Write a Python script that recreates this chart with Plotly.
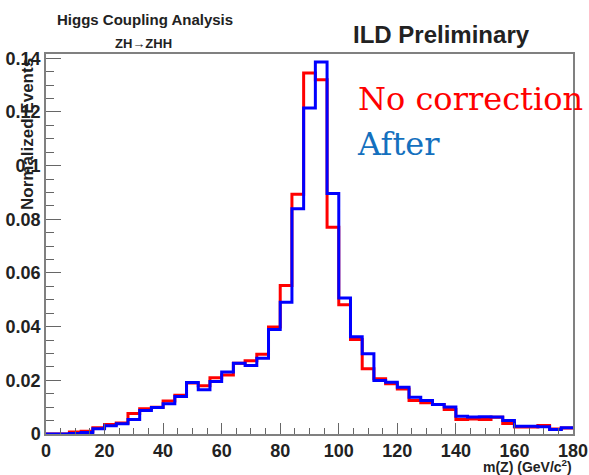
import plotly.graph_objects as go

# m(Z) histogram: 45 bins of 4 GeV from 0 to 180
bin_edges = list(range(0, 184, 4))

no_correction = [
    0.0, 0.0, 0.0007, 0.0010, 0.0023, 0.0035, 0.0041, 0.0076, 0.0094, 0.0100,
    0.0123, 0.0144, 0.0190, 0.0180, 0.0210, 0.0220, 0.0264, 0.0273, 0.0297, 0.0399,
    0.0553, 0.0893, 0.1345, 0.1320, 0.0770, 0.0482, 0.0352, 0.0243, 0.0206, 0.0187,
    0.0168, 0.0125, 0.0116, 0.0110, 0.0091, 0.0054, 0.0056, 0.0054, 0.0062, 0.0039,
    0.0026, 0.0026, 0.0032, 0.0019, 0.0022,
]

after = [
    0.0, 0.0, 0.0002, 0.0006, 0.0020, 0.0031, 0.0038, 0.0054, 0.0088, 0.0099,
    0.0113, 0.0140, 0.0192, 0.0165, 0.0196, 0.0231, 0.0264, 0.0255, 0.0282, 0.0389,
    0.0491, 0.0839, 0.1215, 0.1386, 0.0896, 0.0507, 0.0362, 0.0299, 0.0199, 0.0193,
    0.0174, 0.0137, 0.0125, 0.0110, 0.0101, 0.0066, 0.0063, 0.0064, 0.0063, 0.0050,
    0.0029, 0.0029, 0.0027, 0.0017, 0.0023,
]

x_tick_vals = [0, 20, 40, 60, 80, 100, 120, 140, 160, 180]
x_tick_text = ["0", "20", "40", "60", "80", "100", "120", "140", "160", "180"]
y_tick_vals = [0, 0.02, 0.04, 0.06, 0.08, 0.10, 0.12, 0.14]
y_tick_text = ["0", "0.02", "0.04", "0.06", "0.08", "0.1", "0.12", "0.14"]

W, H = 589, 475
ML, MR, MT, MB = 46, 16, 54, 41


def step_points(values):
    # hv step: each bin's value is held from its low edge to its high edge
    return bin_edges, list(values) + [values[-1]]


fig = go.Figure()
for vals, color in [(no_correction, "#ff0000"), (after, "#0000ff")]:
    xs, ys = step_points(vals)
    fig.add_trace(go.Scatter(
        x=xs, y=ys, mode="lines", line=dict(color=color, width=3, shape="hv"),
        showlegend=False, hoverinfo="skip",
    ))

axis_font = dict(family="Liberation Sans", size=18, color="#222", weight="bold")

fig.update_layout(
    width=W, height=H,
    margin=dict(l=ML, r=MR, t=MT, b=MB),
    paper_bgcolor="white", plot_bgcolor="white",
    xaxis=dict(
        range=[0, 180], tickvals=x_tick_vals, ticktext=x_tick_text, automargin=False,
        ticks="inside", ticklen=11, tickwidth=1.2, tickcolor="#666",
        minor=dict(dtick=5, tick0=0, ticks="inside", ticklen=6, tickcolor="#666", tickwidth=1.2),
        showline=True, linecolor="#808080", linewidth=1.5, mirror=True,
        showgrid=False, zeroline=False, tickfont=axis_font,
    ),
    yaxis=dict(
        range=[0, 0.1416], tickvals=y_tick_vals, ticktext=y_tick_text, automargin=False,
        ticks="inside", ticklen=15, tickwidth=1.2, tickcolor="#666",
        minor=dict(dtick=0.005, tick0=0, ticks="inside", ticklen=8, tickcolor="#666", tickwidth=1.2),
        showline=True, linecolor="#808080", linewidth=1.5, mirror=True,
        showgrid=False, zeroline=False, tickfont=axis_font,
    ),
)

bold_sans = dict(family="Liberation Sans", color="#222", weight="bold")

# (text, page x, page y from top, anchor, angle, font)
labels = [
    ("Higgs Coupling Analysis", 145, 20, "center", 0, dict(**bold_sans, size=15)),
    ("ZH→ZHH", 143, 43, "center", 0, dict(**bold_sans, size=13)),
    ("ILD Preliminary", 441, 34, "center", 0, dict(**bold_sans, size=24)),
    ("Normalized Events", 27, 134, "center", -90, dict(**bold_sans, size=17)),
    ("m(Z) (GeV/c<sup>2</sup>)", 574, 466, "right", 0, dict(**bold_sans, size=14)),
    ("No correction", 356, 99, "left", 0, dict(family="DejaVu Serif", size=32, color="#ff0000")),
    ("After", 355, 144, "left", 0, dict(family="DejaVu Serif", size=32, color="#1470be")),
]

plot_w = W - ML - MR
plot_h = H - MT - MB
for text, px, py, anchor, angle, font in labels:
    fig.add_annotation(
        text=text, xref="paper", yref="paper",
        x=(px - ML) / plot_w, y=(H - py - MB) / plot_h,
        xanchor=anchor, yanchor="middle", textangle=angle,
        showarrow=False, font=font,
    )

fig.write_html("out.html")
